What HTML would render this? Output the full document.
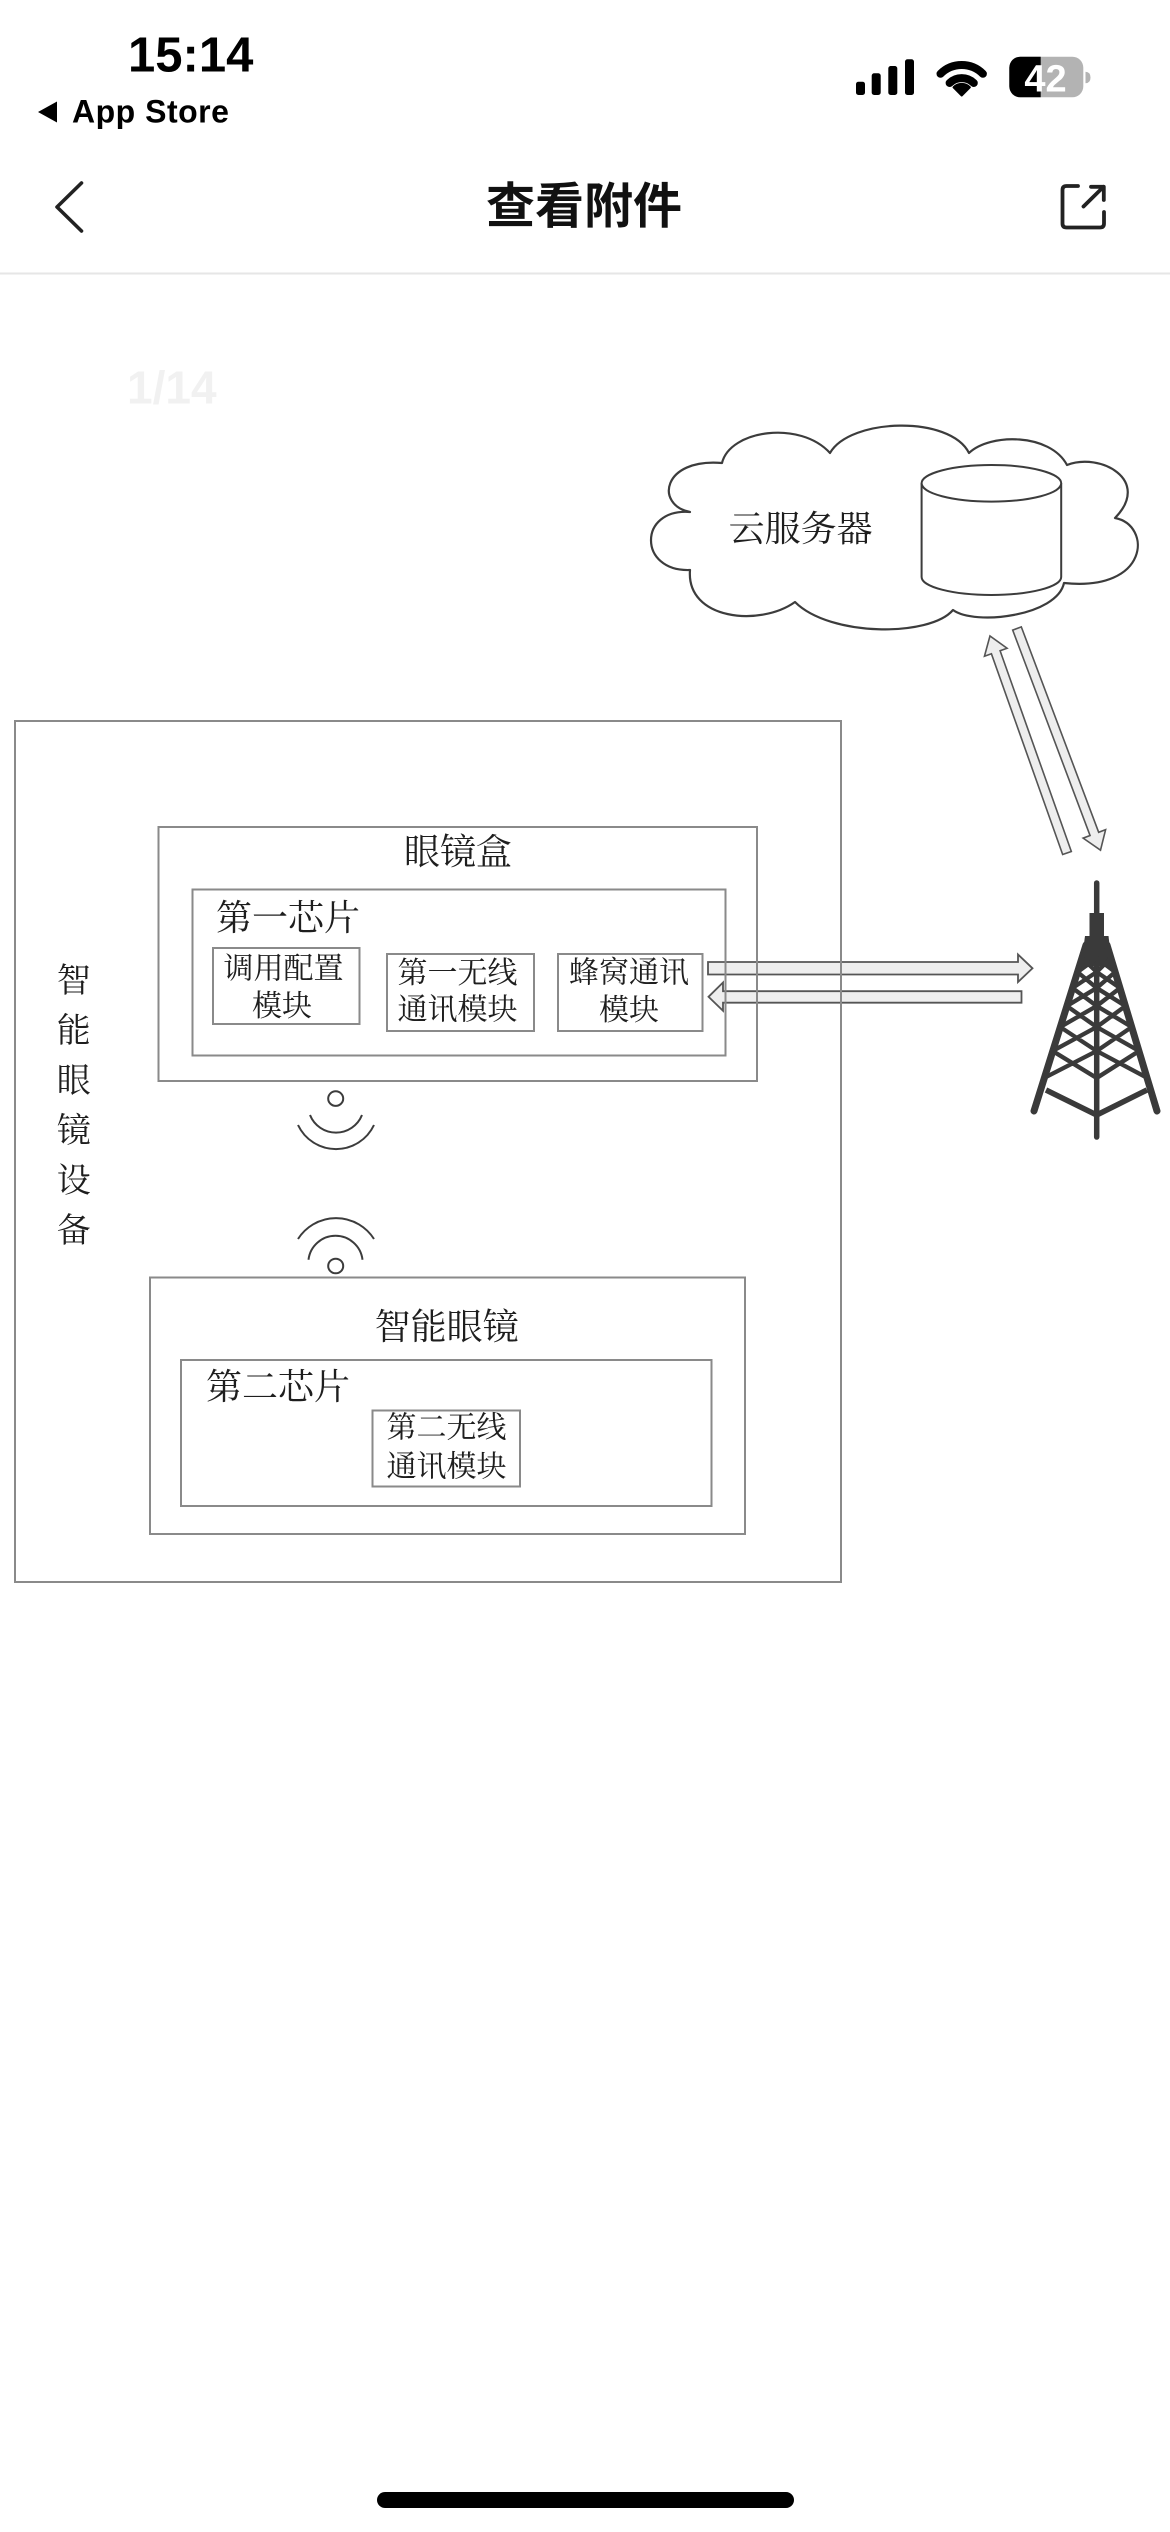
<!DOCTYPE html>
<html>
<head>
<meta charset="utf-8">
<style>
  html,body{margin:0;padding:0;background:#fff;}
  body{width:1170px;height:2532px;overflow:hidden;position:relative;}
  svg{position:absolute;left:0;top:0;}
  .cjk{font-family:"Liberation Serif","Noto Serif CJK SC",serif;fill:#1e1e1e;}
  .lat{font-family:"Liberation Sans",sans-serif;}
</style>
</head>
<body>
<svg width="1170" height="2532" viewBox="0 0 1170 2532" xmlns="http://www.w3.org/2000/svg">
  <defs>
    <clipPath id="battL"><rect x="1000" y="50" width="40.7" height="60"/></clipPath>
  </defs>

  <!-- ===== Status bar ===== -->
  <text class="lat" x="128" y="71.5" font-size="49" font-weight="bold" fill="#000">15:14</text>
  <polygon points="38,112 57,101.5 57,122.5" fill="#000"/>
  <text class="lat" x="72" y="122.5" font-size="32" font-weight="bold" letter-spacing="0.5" fill="#000">App Store</text>

  <!-- signal -->
  <rect x="856" y="81.7" width="9" height="13.3" rx="2.5" fill="#000"/>
  <rect x="871.7" y="73.3" width="9" height="21.7" rx="2.5" fill="#000"/>
  <rect x="888.3" y="66" width="9" height="29" rx="2.5" fill="#000"/>
  <rect x="905" y="59.3" width="9" height="35.7" rx="2.5" fill="#000"/>
  <!-- wifi -->
  <path d="M940.5,73.8 A30 30 0 0 1 982.9,73.8" fill="none" stroke="#000" stroke-width="8" stroke-linecap="round"/>
  <path d="M949.6,83 A17.5 17.5 0 0 1 973.8,83" fill="none" stroke="#000" stroke-width="8" stroke-linecap="round"/>
  <path d="M961.7,95.5 L953.5,87.3 A11.6 11.6 0 0 1 969.9,87.3 Z" fill="#000" stroke="#000" stroke-width="2" stroke-linejoin="round"/>
  <!-- battery -->
  <rect x="1009.3" y="56.7" width="74" height="40.6" rx="11" fill="#b3b3b3"/>
  <rect x="1009.3" y="56.7" width="74" height="40.6" rx="11" fill="#000" clip-path="url(#battL)"/>
  <path d="M1085.5,71.7 Q1090.5,72 1090.5,77.5 Q1090.5,83 1085.5,83.3 Z" fill="#b3b3b3"/>
  <text class="lat" x="1045.5" y="91.5" font-size="38" font-weight="bold" fill="#fff" text-anchor="middle">42</text>

  <!-- ===== Nav bar ===== -->
  <path d="M81.5,183 L57,207 L81.5,231" fill="none" stroke="#222" stroke-width="3.6" stroke-linecap="round" stroke-linejoin="round"/>
  <text x="584" y="207" font-family="'Liberation Sans','Noto Sans CJK SC',sans-serif" font-size="49" font-weight="bold" fill="#111" text-anchor="middle" dominant-baseline="central">查看附件</text>
  <path d="M1078,186 H1066.5 Q1062.5,186 1062.5,190 V223.5 Q1062.5,227.5 1066.5,227.5 H1100 Q1104,227.5 1104,223.5 V212" fill="none" stroke="#222" stroke-width="3.8" stroke-linecap="round" stroke-linejoin="round"/>
  <path d="M1083.5,206.5 L1103.5,186.8 M1091,186.8 H1103.8 V200" fill="none" stroke="#222" stroke-width="3.8" stroke-linecap="round" stroke-linejoin="round"/>
  <line x1="0" y1="273.5" x2="1170" y2="273.5" stroke="#e6e6e6" stroke-width="2"/>

  <!-- page counter -->
  <text class="lat" x="127" y="403.5" font-size="46" font-weight="bold" fill="#f1f1f1">1/14</text>

  <!-- ===== Cloud ===== -->
  <path d="M690,512 C655,505 662,458 722,463 C730,430 800,420 830,453 C850,418 950,415 969,453 C990,433 1050,433 1067,465 C1100,452 1152,480 1115,518 C1152,525 1150,592 1064,583 C1057,616 975,626 953,610 C930,637 830,637 795,602 C760,627 686,620 690,570 C638,572 638,508 690,512 Z" fill="#fff" stroke="#3c3c3c" stroke-width="2.2" stroke-linejoin="round"/>
  <!-- cylinder -->
  <path d="M921.6,483.3 V577 A69.8 18 0 0 0 1061.2,577 V483.3" fill="#fff" stroke="#3c3c3c" stroke-width="2"/>
  <ellipse cx="991.4" cy="483.3" rx="69.8" ry="18.3" fill="#fff" stroke="#3c3c3c" stroke-width="2"/>
  <text class="cjk" x="800.6" y="529" font-size="36" text-anchor="middle" dominant-baseline="central">云服务器</text>

  <!-- diagonal arrows -->
  <g transform="translate(1067,853) rotate(-109.54)">
    <polygon points="0,-4.6 213,-4.6 213,-12 230.3,0 213,12 213,4.6 0,4.6" fill="#eeeeee" stroke="#555" stroke-width="1.6" stroke-linejoin="miter"/>
  </g>
  <g transform="translate(1017,628.5) rotate(69.36)">
    <polygon points="0,-4.6 219.5,-4.6 219.5,-12 236.9,0 219.5,12 219.5,4.6 0,4.6" fill="#eeeeee" stroke="#555" stroke-width="1.6" stroke-linejoin="miter"/>
  </g>

  <!-- horizontal arrows -->
  <polygon points="708,962 1018,962 1018,954.5 1032.5,968.3 1018,982 1018,974.5 708,974.5" fill="#eeeeee" stroke="#555" stroke-width="1.8"/>
  <polygon points="1021.5,991.2 723,991.2 723,982.5 708.5,996.8 723,1010.8 723,1002.7 1021.5,1002.7" fill="#eeeeee" stroke="#555" stroke-width="1.8"/>

  <!-- ===== Tower ===== -->
  <g fill="#3a3a3a" stroke="#3a3a3a">
    <line x1="1096.7" y1="883" x2="1096.7" y2="1137" stroke-width="5.5" stroke-linecap="round"/>
    <rect x="1089.5" y="913" width="14.5" height="28" stroke="none"/>
    <polygon points="1085,936 1108.5,936 1112,966 1081,966" stroke="none"/>
    <line x1="1086" y1="945" x2="1034" y2="1111" stroke-width="7" stroke-linecap="round"/>
    <line x1="1107" y1="945" x2="1157" y2="1111" stroke-width="7" stroke-linecap="round"/>
    <path fill="none" stroke-width="4.3" stroke-linecap="round" d="
      M1081.9,958 L1096.7,972 M1096.7,958 L1077.5,972 M1110.9,958 L1096.7,972 M1096.7,958 L1115.2,972
      M1077.5,972 L1096.7,988 M1096.7,972 L1072.5,988 M1115.2,972 L1096.7,988 M1096.7,972 L1120,988
      M1072.5,988 L1096.7,1006 M1096.7,988 L1066.8,1006 M1120,988 L1096.7,1006 M1096.7,988 L1125.5,1006
      M1066.8,1006 L1096.7,1027 M1096.7,1006 L1060.2,1027 M1125.5,1006 L1096.7,1027 M1096.7,1006 L1131.8,1027
      M1060.2,1027 L1096.7,1051 M1096.7,1027 L1052.6,1051 M1131.8,1027 L1096.7,1051 M1096.7,1027 L1139.1,1051
      M1052.6,1051 L1096.7,1078 M1096.7,1051 L1044.1,1078 M1139.1,1051 L1096.7,1078 M1096.7,1051 L1147.3,1078"/>
    <path d="M1046,1090 L1096.7,1115 L1147,1090" fill="none" stroke-width="5.5" stroke-linejoin="round"/>
  </g>

  <!-- ===== Boxes ===== -->
  <g fill="none" stroke="#8a8a8a" stroke-width="2">
    <rect x="15" y="721" width="826" height="861"/>
    <rect x="158.5" y="827" width="598.5" height="254"/>
    <rect x="192.5" y="889.5" width="533" height="166"/>
    <rect x="213" y="948" width="146.5" height="76"/>
    <rect x="387" y="954" width="147" height="77"/>
    <rect x="558" y="954" width="144.5" height="77"/>
    <rect x="150" y="1277.5" width="595" height="256.5"/>
    <rect x="181" y="1360" width="530.5" height="146"/>
    <rect x="372.5" y="1410.5" width="147.5" height="76"/>
  </g>

  <!-- side vertical label -->
  <g class="cjk" font-size="34" text-anchor="middle">
    <text x="73.7" y="981.5" dominant-baseline="central">智</text>
    <text x="73.7" y="1031.5" dominant-baseline="central">能</text>
    <text x="73.7" y="1081.5" dominant-baseline="central">眼</text>
    <text x="73.7" y="1131.5" dominant-baseline="central">镜</text>
    <text x="73.7" y="1181.5" dominant-baseline="central">设</text>
    <text x="73.7" y="1231.5" dominant-baseline="central">备</text>
  </g>

  <!-- glasses case texts -->
  <text class="cjk" x="458" y="852" font-size="36" text-anchor="middle" dominant-baseline="central">眼镜盒</text>
  <text class="cjk" x="216" y="918" font-size="36" dominant-baseline="central">第一芯片</text>
  <text class="cjk" x="283.5" y="969" font-size="30" text-anchor="middle" dominant-baseline="central">调用配置</text>
  <text class="cjk" x="282" y="1006.5" font-size="30" text-anchor="middle" dominant-baseline="central">模块</text>
  <text class="cjk" x="457.5" y="973.5" font-size="30" text-anchor="middle" dominant-baseline="central">第一无线</text>
  <text class="cjk" x="457.5" y="1010" font-size="30" text-anchor="middle" dominant-baseline="central">通讯模块</text>
  <text class="cjk" x="629" y="973" font-size="30" text-anchor="middle" dominant-baseline="central">蜂窝通讯</text>
  <text class="cjk" x="629" y="1010.5" font-size="30" text-anchor="middle" dominant-baseline="central">模块</text>

  <!-- wireless icons -->
  <g fill="none" stroke="#3c3c3c" stroke-width="2">
    <ellipse cx="335.7" cy="1098.6" rx="7.5" ry="7.3"/>
    <path d="M310,1115 A28 28 0 0 0 362,1115"/>
    <path d="M298,1125 A42 42 0 0 0 374,1125"/>
    <path d="M298,1239 A45 45 0 0 1 374,1239"/>
    <path d="M308.5,1259.7 A27.2 27.2 0 0 1 362.5,1259.7"/>
    <ellipse cx="335.7" cy="1266" rx="7.5" ry="7.3"/>
  </g>

  <!-- smart glasses texts -->
  <text class="cjk" x="446.6" y="1327" font-size="36" text-anchor="middle" dominant-baseline="central">智能眼镜</text>
  <text class="cjk" x="206" y="1387" font-size="36" dominant-baseline="central">第二芯片</text>
  <text class="cjk" x="446.5" y="1428" font-size="30" text-anchor="middle" dominant-baseline="central">第二无线</text>
  <text class="cjk" x="446.5" y="1467" font-size="30" text-anchor="middle" dominant-baseline="central">通讯模块</text>

  <!-- home indicator -->
  <rect x="377" y="2492" width="417" height="16" rx="8" fill="#000"/>
</svg>
</body>
</html>
